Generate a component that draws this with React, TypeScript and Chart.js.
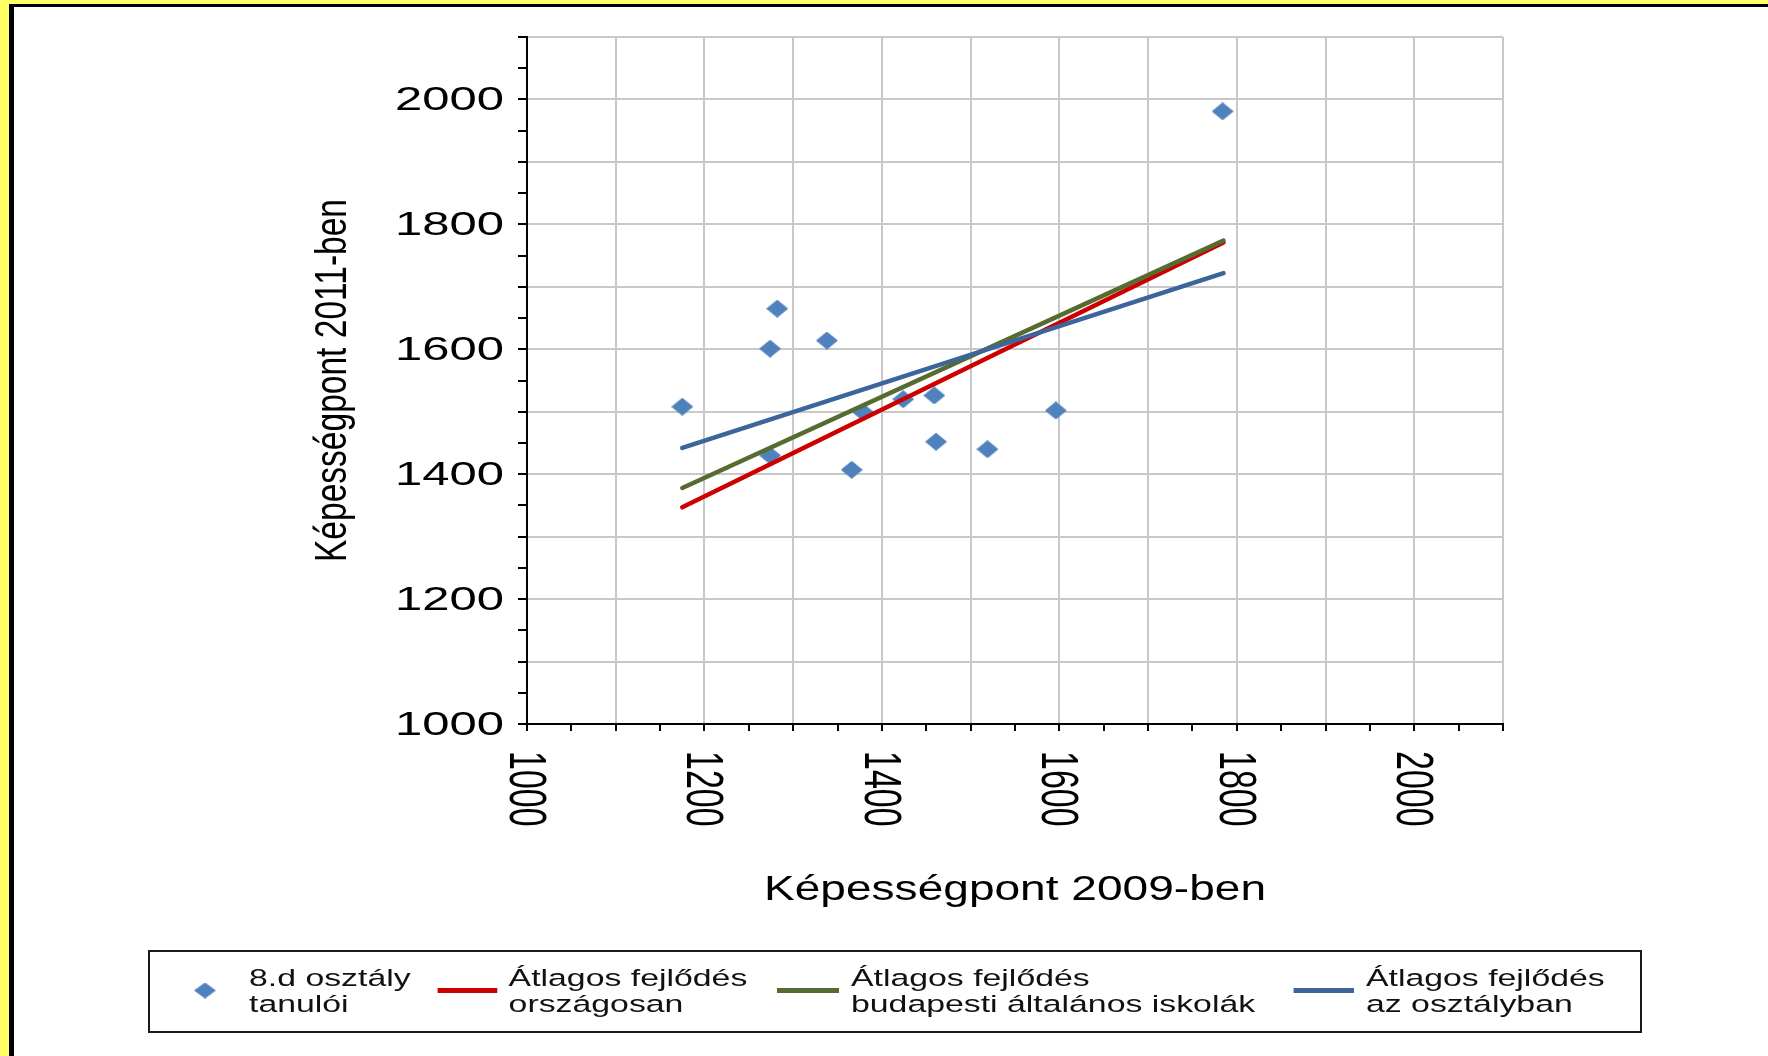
import React, { useEffect, useRef } from 'react';
import { Chart, registerables } from 'chart.js';

Chart.register(...registerables);

// ---- data ----
const studentX = [1175, 1282, 1274, 1338, 1274, 1366, 1379, 1424, 1459, 1461, 1519, 1596, 1784];
const studentY = [1508, 1665, 1601, 1614, 1430, 1407, 1499, 1520, 1526, 1452, 1440, 1502, 1981];

const trendX = [1175, 1785];
const nationalY = [1347, 1771];
const budapestY = [1378, 1774];
const classY = [1442, 1722];

const xTickLabels = ['1000', '1200', '1400', '1600', '1800', '2000'];
const yTickLabels = ['1000', '1200', '1400', '1600', '1800', '2000'];

const seriesLabels = [
  '8.d osztály\ntanulói',
  'Átlagos fejlődés\nországosan',
  'Átlagos fejlődés\nbudapesti általános iskolák',
  'Átlagos fejlődés\naz osztályban',
];

const xTitle = 'Képességpont 2009-ben';
const yTitle = 'Képességpont 2011-ben';

const POINT_COLOR = '#4f81bd';
const RED = '#cc0000';
const GREEN = '#556b2f';
const BLUE = '#3c659c';
const GRID = '#c8c8c8';
const FONT = '"Liberation Sans", Arial, sans-serif';

function makeDiamond(w: number, h: number, color: string) {
  const c = document.createElement('canvas');
  c.width = w;
  c.height = h;
  const g = c.getContext('2d')!;
  g.fillStyle = color;
  g.beginPath();
  g.moveTo(w / 2, 0);
  g.lineTo(w, h / 2);
  g.lineTo(w / 2, h);
  g.lineTo(0, h / 2);
  g.closePath();
  g.fill();
  return c;
}

const textPlugin = {
  id: 'customText',
  afterDraw(chart: any) {
    const ctx: CanvasRenderingContext2D = chart.ctx;
    const xs = chart.scales.x;
    const ys = chart.scales.y;
    const area = chart.chartArea;
    ctx.save();
    ctx.fillStyle = '#000';

    // y tick labels
    ctx.font = `34px ${FONT}`;
    ctx.textAlign = 'right';
    ctx.textBaseline = 'alphabetic';
    for (const lab of yTickLabels) {
      const py = ys.getPixelForValue(Number(lab));
      ctx.save();
      ctx.translate(area.left - 23, py + 11);
      ctx.scale(1.44, 1);
      ctx.fillText(lab, 0, 0);
      ctx.restore();
    }

    // x tick labels (rotated clockwise)
    ctx.font = `34px ${FONT}`;
    ctx.textAlign = 'left';
    for (const lab of xTickLabels) {
      const px = xs.getPixelForValue(Number(lab));
      ctx.save();
      ctx.translate(px - 17, area.bottom + 27);
      ctx.rotate(Math.PI / 2);
      ctx.scale(1, 1.55);
      ctx.fillText(lab, 0, 0);
      ctx.restore();
    }

    // x title
    ctx.font = `35px ${FONT}`;
    ctx.textAlign = 'center';
    {
      const w = ctx.measureText(xTitle).width;
      ctx.save();
      ctx.translate((area.left + area.right) / 2, 900);
      ctx.scale(502 / w, 1);
      ctx.fillText(xTitle, 0, 0);
      ctx.restore();
    }

    // y title
    ctx.font = `33.3px ${FONT}`;
    {
      const w = ctx.measureText(yTitle).width;
      ctx.save();
      ctx.translate(346, (area.top + area.bottom) / 2);
      ctx.rotate(-Math.PI / 2);
      ctx.scale(363 / w, 1.35);
      ctx.fillText(yTitle, 0, 0);
      ctx.restore();
    }

    // legend
    ctx.lineWidth = 2;
    ctx.strokeStyle = '#1a1a1a';
    ctx.strokeRect(149, 951, 1492, 81);
    const textX = [249, 508.6, 851, 1366];
    const symY = 990.5;
    const datasets = chart.data.datasets;
    const diamond = makeDiamond(22, 16, POINT_COLOR);
    ctx.drawImage(diamond, 205 - 11, symY - 8);
    const lineSyms = [
      [437.6, 497.3],
      [777, 839],
      [1293.6, 1354],
    ];
    lineSyms.forEach((s, i) => {
      ctx.beginPath();
      ctx.strokeStyle = datasets[i + 1].borderColor;
      ctx.lineWidth = 5;
      ctx.moveTo(s[0], symY);
      ctx.lineTo(s[1], symY);
      ctx.stroke();
    });
    ctx.font = `24.5px ${FONT}`;
    ctx.textAlign = 'left';
    ctx.fillStyle = '#111';
    datasets.forEach((ds: any, i: number) => {
      const lines = String(ds.label).split('\n');
      lines.forEach((ln: string, j: number) => {
        ctx.save();
        ctx.translate(textX[i], 986 + j * 25.7);
        ctx.scale(1.38, 1);
        ctx.fillText(ln, 0, 0);
        ctx.restore();
      });
    });

    ctx.restore();
  },
};

export default function App() {
  const canvasRef = useRef<HTMLCanvasElement | null>(null);

  useEffect(() => {
    const canvas = canvasRef.current;
    if (!canvas) return;
    const diamond = makeDiamond(22, 18, POINT_COLOR);
    const pts = studentX.map((x, i) => ({ x, y: studentY[i] }));
    const line = (ys: number[]) => trendX.map((x, i) => ({ x, y: ys[i] }));
    const lineDs = (label: string, ys: number[], color: string, order: number) => ({
      type: 'scatter' as const,
      label,
      data: line(ys),
      showLine: true,
      borderColor: color,
      backgroundColor: color,
      borderWidth: 4.5,
      borderCapStyle: 'round' as const,
      pointRadius: 0,
      pointHoverRadius: 0,
      order,
    });

    const chart = new Chart(canvas, {
      type: 'scatter',
      data: {
        datasets: [
          {
            label: seriesLabels[0],
            data: pts,
            pointStyle: diamond as any,
            pointRadius: 11,
            backgroundColor: POINT_COLOR,
            borderColor: POINT_COLOR,
            showLine: false,
            order: 10,
          },
          lineDs(seriesLabels[1], nationalY, RED, 3),
          lineDs(seriesLabels[2], budapestY, GREEN, 2),
          lineDs(seriesLabels[3], classY, BLUE, 1),
        ] as any,
      },
      options: {
        responsive: false,
        maintainAspectRatio: false,
        animation: false,
        devicePixelRatio: 1,
        layout: { padding: { left: 0, top: 37, right: 265, bottom: 0 } },
        plugins: {
          legend: { display: false },
          tooltip: { enabled: false },
        },
        scales: {
          x: {
            type: 'linear',
            min: 1000,
            max: 2100,
            ticks: { stepSize: 50, display: false, autoSkip: false },
            grid: {
              color: (c: any) => (c.tick && c.tick.value % 100 === 0 ? GRID : 'rgba(0,0,0,0)'),
              lineWidth: 2,
              drawTicks: true,
              tickLength: 7,
              tickColor: '#000',
              tickWidth: 2,
            },
            border: { display: true, color: '#000', width: 2 },
            afterFit: (s: any) => {
              s.height = 332;
            },
          },
          y: {
            type: 'linear',
            min: 1000,
            max: 2100,
            ticks: { stepSize: 50, display: false, autoSkip: false },
            grid: {
              color: (c: any) => (c.tick && c.tick.value % 100 === 0 ? GRID : 'rgba(0,0,0,0)'),
              lineWidth: 2,
              drawTicks: true,
              tickLength: 9,
              tickColor: '#000',
              tickWidth: 2,
            },
            border: { display: true, color: '#000', width: 2 },
            afterFit: (s: any) => {
              s.width = 527;
            },
          },
        },
      } as any,
      plugins: [textPlugin],
    });
    return () => chart.destroy();
  }, []);

  return (
    <div
      style={{
        position: 'fixed',
        left: 0,
        top: 0,
        width: 1768,
        height: 1056,
        background: '#ffff66',
        overflow: 'hidden',
      }}
    >
      <div
        style={{
          position: 'absolute',
          left: 9,
          top: 4,
          right: -10,
          bottom: -10,
          background: '#fff',
          borderLeft: '5px solid #000',
          borderTop: '3px solid #000',
        }}
      />
      <canvas
        ref={canvasRef}
        width={1768}
        height={1056}
        style={{ position: 'absolute', left: 0, top: 0, width: 1768, height: 1056, display: 'block' }}
      />
    </div>
  );
}
